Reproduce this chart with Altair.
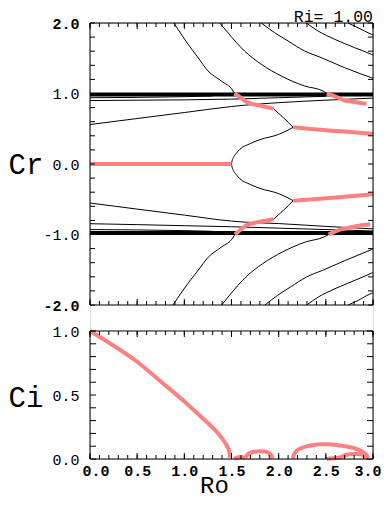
import altair as alt
import pandas as pd

# ---------------- data ----------------
ri_label = "Ri= 1.00"

# upper neutral curves coming down from Cr=2
c1u_ro = [0.89, 0.933, 1.039, 1.145, 1.251, 1.392, 1.516, 1.53]
c1u_cr = [2.0, 1.91, 1.70, 1.51, 1.32, 1.177, 1.035, 1.0]
c2u_ro = [1.375, 1.463, 1.64, 1.816, 2.028, 2.276, 2.47, 2.51]
c2u_cr = [2.0, 1.86, 1.60, 1.414, 1.248, 1.106, 1.035, 1.0]
c3u_ro = [1.816, 1.958, 2.099, 2.276, 2.452, 2.70, 2.982, 3.0]
c3u_cr = [2.0, 1.862, 1.745, 1.603, 1.508, 1.366, 1.224, 1.215]
c4u_ro = [2.293, 2.417, 2.594, 2.806, 2.982, 3.0]
c4u_cr = [2.0, 1.887, 1.769, 1.65, 1.556, 1.545]
c5u_ro = [2.735, 2.841, 2.982, 3.0]
c5u_cr = [2.0, 1.933, 1.84, 1.83]
# lower neutral curves coming up from Cr=-2
c1l_ro = [0.88, 0.925, 1.035, 1.145, 1.255, 1.395, 1.52, 1.535]
c1l_cr = [-2.0, -1.91, -1.70, -1.51, -1.32, -1.177, -1.035, -1.0]
c2l_ro = [1.396, 1.48, 1.655, 1.83, 2.04, 2.285, 2.48, 2.53]
c2l_cr = [-2.0, -1.86, -1.60, -1.414, -1.248, -1.106, -1.035, -1.0]
c3l_ro = [1.855, 1.99, 2.125, 2.295, 2.465, 2.71, 2.982, 3.0]
c3l_cr = [-2.0, -1.862, -1.745, -1.603, -1.508, -1.366, -1.215, -1.205]
c4l_ro = [2.297, 2.42, 2.597, 2.808, 2.982, 3.0]
c4l_cr = [-2.0, -1.887, -1.769, -1.65, -1.55, -1.54]
c5l_ro = [2.738, 2.845, 2.982, 3.0]
c5l_cr = [-2.0, -1.933, -1.835, -1.826]

# nearly flat neutral curves close to the continuous spectrum
n1u_ro = [0.0, 0.5, 1.0, 1.3]
n1u_cr = [0.94, 0.945, 0.955, 0.965]
n2u_ro = [0.0, 0.5, 1.0, 1.5, 2.0, 2.5]
n2u_cr = [0.90, 0.905, 0.91, 0.92, 0.94, 0.96]
n3u_ro = [0.0, 0.5, 1.0, 1.5, 1.65, 2.0, 2.5, 3.0]
n3u_cr = [0.56, 0.645, 0.73, 0.815, 0.835, 0.87, 0.905, 0.935]
n1l_ro = [0.0, 0.5, 1.0, 1.3]
n1l_cr = [-0.93, -0.935, -0.945, -0.955]
n2l_ro = [0.0, 0.5, 1.0, 1.5, 2.0, 2.5, 3.0]
n2l_cr = [-0.847, -0.86, -0.875, -0.89, -0.91, -0.93, -0.95]
n3l_ro = [0.0, 0.5, 1.0, 1.5, 1.65, 2.0, 2.5, 3.0]
n3l_cr = [-0.553, -0.64, -0.725, -0.81, -0.825, -0.845, -0.885, -0.92]

# branch leaving Cr=0 at Ro=1.5 and connectors
bu_ro = [1.50, 1.505, 1.52, 1.55, 1.59, 1.70, 1.80, 2.0, 2.155]
bu_cr = [0.0, 0.04, 0.09, 0.15, 0.21, 0.29, 0.345, 0.42, 0.52]
bl_ro = [1.50, 1.505, 1.52, 1.55, 1.59, 1.70, 1.80, 2.0, 2.155]
bl_cr = [0.0, -0.04, -0.09, -0.15, -0.21, -0.29, -0.345, -0.42, -0.52]
ku_ro = [1.943, 2.05, 2.155]
ku_cr = [0.785, 0.657, 0.52]
kl_ro = [1.943, 2.05, 2.155]
kl_cr = [-0.785, -0.657, -0.52]

# continuous spectrum bands
band_ro = [0.0, 3.0]
bandu_cr = [0.985, 0.985]
bandl_cr = [-0.98, -0.98]

# unstable modes (Cr)
p0_ro = [0.0, 1.50]
p0_cr = [0.0, 0.0]
p1u_ro = [1.53, 1.59, 1.643, 1.678, 1.80, 1.943]
p1u_cr = [1.0, 0.95, 0.894, 0.87, 0.83, 0.785]
p2u_ro = [2.155, 2.4, 2.7, 3.0]
p2u_cr = [0.52, 0.49, 0.46, 0.43]
p3u_ro = [2.51, 2.615, 2.685, 2.80, 2.93]
p3u_cr = [1.0, 0.95, 0.908, 0.88, 0.855]
p1l_ro = [1.537, 1.59, 1.66, 1.70, 1.80, 1.943]
p1l_cr = [-1.0, -0.94, -0.865, -0.85, -0.82, -0.785]
p2l_ro = [2.155, 2.4, 2.7, 3.0]
p2l_cr = [-0.52, -0.495, -0.465, -0.43]
p3l_ro = [2.53, 2.65, 2.75, 2.85, 2.97]
p3l_cr = [-1.0, -0.93, -0.9, -0.875, -0.855]

# growth rates (Ci)
m_ro = [0.0, 0.25, 0.5, 0.75, 1.0, 1.2, 1.3, 1.4, 1.45, 1.475, 1.485]
m_ci = [1.0, 0.885, 0.76, 0.605, 0.45, 0.315, 0.245, 0.16, 0.105, 0.06, 0.01]
a1_ro = [1.527, 1.56, 1.59, 1.62, 1.643]
a1_ci = [0.0, 0.012, 0.016, 0.012, 0.005]
a2_ro = [1.643, 1.66, 1.678, 1.72, 1.767, 1.81, 1.855, 1.89, 1.908, 1.925, 1.937]
a2_ci = [0.005, 0.025, 0.04, 0.053, 0.059, 0.061, 0.059, 0.05, 0.04, 0.025, 0.005]
a3_ro = [2.149, 2.165, 2.19, 2.24, 2.297, 2.36, 2.438, 2.52, 2.615, 2.7, 2.79, 2.85, 2.897, 2.93, 2.95]
a3_ci = [0.005, 0.04, 0.064, 0.085, 0.099, 0.108, 0.115, 0.115, 0.11, 0.1, 0.087, 0.072, 0.052, 0.032, 0.01]
a4_ro = [2.51, 2.58, 2.65, 2.68, 2.72, 2.78, 2.83, 2.87, 2.9, 2.93, 2.95]
a4_ci = [0.0, 0.005, 0.012, 0.022, 0.033, 0.039, 0.04, 0.036, 0.028, 0.017, 0.005]

# tick positions / labels
x_minor = [round(i * 0.1, 1) for i in range(31)]
x_major = [0.0, 0.5, 1.0, 1.5, 2.0, 2.5, 3.0]
x_edges = [0.0, 3.0]
cr_ticks = [round(-2 + i * 0.2, 1) for i in range(21)]
cr_labels = [-2.0, -1.0, 0.0, 1.0, 2.0]
cr_edges = [-2.0, 2.0]
ci_ticks = [round(i * 0.1, 1) for i in range(11)]
ci_labels = [0.0, 0.5, 1.0]
ci_edges = [0.0, 1.0]

# ---------------- layout / style ----------------
PINK = "#ff8080"
FONT = "Liberation Mono"
W = 283            # plot width
H1 = 282           # upper panel height
GAP = 26           # gap between panels
H2 = 128           # lower panel height
HT = H1 + GAP + H2  # whole view height
B0 = H1 + GAP      # top of lower panel


def frame(series):
    rows = []
    for name, ro, val in series:
        for i, (r, v) in enumerate(zip(ro, val)):
            rows.append({"s": name, "i": i, "ro": r, "v": v})
    return pd.DataFrame(rows)


thin_df = frame([
    ("c1u", c1u_ro, c1u_cr), ("c2u", c2u_ro, c2u_cr), ("c3u", c3u_ro, c3u_cr),
    ("c4u", c4u_ro, c4u_cr), ("c5u", c5u_ro, c5u_cr),
    ("c1l", c1l_ro, c1l_cr), ("c2l", c2l_ro, c2l_cr), ("c3l", c3l_ro, c3l_cr),
    ("c4l", c4l_ro, c4l_cr), ("c5l", c5l_ro, c5l_cr),
    ("n1u", n1u_ro, n1u_cr), ("n2u", n2u_ro, n2u_cr), ("n3u", n3u_ro, n3u_cr),
    ("n1l", n1l_ro, n1l_cr), ("n2l", n2l_ro, n2l_cr), ("n3l", n3l_ro, n3l_cr),
    ("bu", bu_ro, bu_cr), ("bl", bl_ro, bl_cr), ("ku", ku_ro, ku_cr), ("kl", kl_ro, kl_cr),
])
band_df = frame([("bu", band_ro, bandu_cr), ("bl", band_ro, bandl_cr)])
pink_cr_df = frame([
    ("p0", p0_ro, p0_cr), ("p1u", p1u_ro, p1u_cr), ("p2u", p2u_ro, p2u_cr),
    ("p3u", p3u_ro, p3u_cr), ("p1l", p1l_ro, p1l_cr), ("p2l", p2l_ro, p2l_cr),
    ("p3l", p3l_ro, p3l_cr),
])
pink_ci_df = frame([
    ("m", m_ro, m_ci), ("a1", a1_ro, a1_ci), ("a2", a2_ro, a2_ci),
    ("a3", a3_ro, a3_ci), ("a4", a4_ro, a4_ci),
])

xminor_df = pd.DataFrame({"ro": x_minor})
xmajor_df = pd.DataFrame({"ro": x_major})
xedge_df = pd.DataFrame({"ro": x_edges})
crt_df = pd.DataFrame({"v": cr_ticks})
cre_df = pd.DataFrame({"v": cr_edges})
cit_df = pd.DataFrame({"v": ci_ticks})
cie_df = pd.DataFrame({"v": ci_edges})

xscale = alt.Scale(domain=[0, 3], nice=False, zero=False)
cr_scale = alt.Scale(domain=[-2, 2], range=[H1, 0], nice=False, zero=False)
ci_scale = alt.Scale(domain=[0, 1], range=[HT, B0], nice=False, zero=False)

num_expr = "datum.value < 0 ? '-' + format(-datum.value, '.1f') : format(datum.value, '.1f')"

cr_axis = alt.Axis(
    orient="left", values=cr_labels, labelExpr=num_expr, ticks=False, tickSize=0,
    domain=False, grid=False, labelFlush=False, labelOverlap=False,
    labelFont=FONT, labelFontSize=15, labelPadding=11, labelColor="black",
    labelFontWeight={"condition": {"test": "abs(datum.value) == 2", "value": "bold"}, "value": "normal"},
    title="Cr", titleFont=FONT, titleFontSize=29, titleFontWeight="normal", titleColor="black",
    titleAngle=0, titleX=-82, titleY=H1 / 2, titleAlign="left", titleBaseline="middle",
)
ci_axis = alt.Axis(
    orient="left", values=ci_labels, labelExpr=num_expr, ticks=False, tickSize=0,
    domain=False, grid=False, labelFlush=False, labelOverlap=False,
    labelFont=FONT, labelFontSize=15, labelPadding=11, labelColor="black",
    title="Ci", titleFont=FONT, titleFontSize=29, titleFontWeight="normal", titleColor="black",
    titleAngle=0, titleX=-82, titleY=B0 + H2 / 2 + 2, titleAlign="left", titleBaseline="middle",
)
ro_axis = alt.Axis(
    orient="bottom", values=x_major, labelExpr=num_expr, ticks=False, tickSize=0,
    domain=False, grid=False, labelFlush=True, labelFlushOffset=8, labelOverlap=False,
    labelFont=FONT, labelFontSize=15, labelFontWeight="bold", labelPadding=4, labelColor="black",
    title="Ro", titleFont=FONT, titleFontSize=24, titleFontWeight="normal", titleColor="black",
    titleX=124, titleY=33, titleAlign="center", titleBaseline="alphabetic",
)

X = alt.X("ro:Q", scale=xscale, axis=ro_axis)
Y_cr = alt.Y("v:Q", scale=cr_scale, axis=cr_axis)
Y_ci = alt.Y("v:Q", scale=ci_scale, axis=ci_axis)


def rule(df):
    return alt.Chart(df).mark_rule(color="black", strokeWidth=1)


def panel_furniture(Y, tick_df, edge_df, y_top, y_bot, ylen):
    return [
        # frame
        rule(edge_df).encode(y=Y, x=alt.value(0), x2=alt.value(W)),
        rule(xedge_df).encode(x=X, y=alt.value(y_top), y2=alt.value(y_bot)),
        # x ticks (inside, top and bottom)
        rule(xminor_df).encode(x=X, y=alt.value(y_top), y2=alt.value(y_top + 4)),
        rule(xminor_df).encode(x=X, y=alt.value(y_bot), y2=alt.value(y_bot - 4)),
        rule(xmajor_df).encode(x=X, y=alt.value(y_top), y2=alt.value(y_top + 6)),
        rule(xmajor_df).encode(x=X, y=alt.value(y_bot), y2=alt.value(y_bot - 6)),
        # y ticks (inside, left and right)
        rule(tick_df).encode(y=Y, x=alt.value(0), x2=alt.value(ylen)),
        rule(tick_df).encode(y=Y, x=alt.value(W), x2=alt.value(W - ylen)),
    ]


top_layers = [
    alt.Chart(thin_df).mark_line(color="black", strokeWidth=1, interpolate="monotone").encode(
        x=X, y=Y_cr, detail="s:N", order="i:Q"),
    alt.Chart(band_df).mark_line(color="black", strokeWidth=4).encode(
        x=X, y=Y_cr, detail="s:N", order="i:Q"),
    alt.Chart(pink_cr_df).mark_line(color=PINK, strokeWidth=4, strokeJoin="round",
                                    interpolate="monotone").encode(
        x=X, y=Y_cr, detail="s:N", order="i:Q"),
] + panel_furniture(Y_cr, crt_df, cre_df, 0, H1, 5)

bot_layers = [
    alt.Chart(pink_ci_df).mark_line(color=PINK, strokeWidth=4, strokeJoin="round",
                                    interpolate="monotone").encode(
        x=X, y=Y_ci, detail="s:N", order="i:Q"),
] + panel_furniture(Y_ci, cit_df, cie_df, B0, HT, 6)

ri_text = alt.Chart(pd.DataFrame({"label": [ri_label]})).mark_text(
    align="right", baseline="alphabetic", font=FONT, fontSize=16.5, color="black").encode(
    x=alt.value(W), y=alt.value(-1), text="label:N")

top = alt.layer(*top_layers)
bottom = alt.layer(*bot_layers)

chart = alt.layer(top, bottom, ri_text).resolve_scale(y="independent").properties(
    width=W, height=HT,
    autosize=alt.AutoSizeParams(type="none"),
    padding={"left": 82, "top": 15, "right": 8, "bottom": 40},
).configure_view(stroke=None).configure(font=FONT)

chart.save("out.html", embed_options={"renderer": "svg", "actions": False})
